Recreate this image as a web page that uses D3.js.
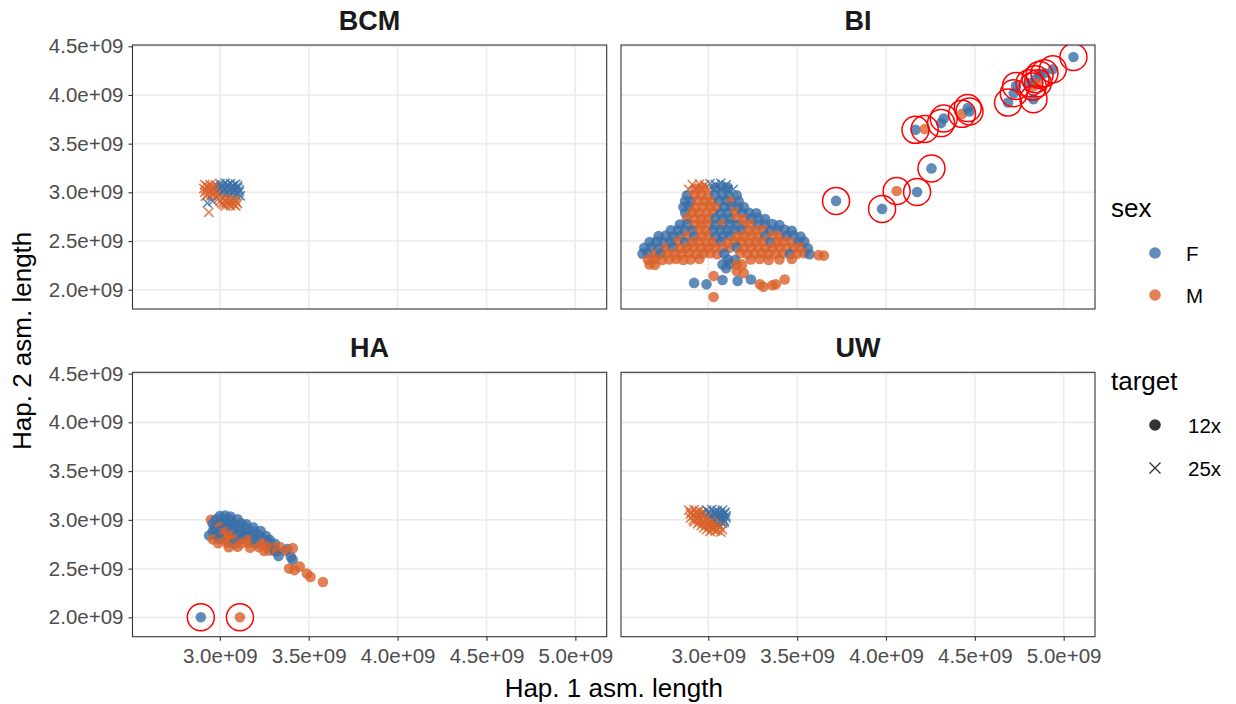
<!DOCTYPE html>
<html><head><meta charset="utf-8">
<script src="https://cdn.jsdelivr.net/npm/d3@7"></script>
<style>body{margin:0;background:#fff;} text{font-family:"Liberation Sans",Arial,Helvetica,sans-serif;}</style>
</head><body>
<script>
// ---------------- DATA ----------------
const panelNames = ["BCM", "BI", "HA", "UW"];
const sexLevels = ["F", "M"];
const targetLevels = ["12x", "25x"];
const xTickValues = [3.0e9, 3.5e9, 4.0e9, 4.5e9, 5.0e9];
const yTickValues = [2.0e9, 2.5e9, 3.0e9, 3.5e9, 4.0e9, 4.5e9];
const xTitle = "Hap. 1 asm. length";
const yTitle = "Hap. 2 asm. length";

// points: [hap1 (in 1e9), hap2 (in 1e9), sex, target, flagged]
const bcmPoints = [
  [2.915,3.08,"M","25x"],[2.945,3.08,"M","25x"],[2.975,3.075,"M","25x"],
  [2.93,3.06,"M","25x"],[2.96,3.06,"M","25x"],[2.99,3.055,"M","25x"],
  [2.91,3.04,"M","25x"],[2.94,3.045,"M","25x"],[2.97,3.04,"M","25x"],[3.00,3.035,"M","25x"],
  [2.925,3.02,"M","25x"],[2.955,3.02,"M","25x"],[2.985,3.015,"M","25x"],
  [2.915,3.00,"M","25x"],[2.945,3.005,"M","25x"],[2.975,3.00,"M","25x"],[3.005,2.995,"M","25x"],
  [2.93,2.98,"M","25x"],[2.96,2.98,"M","25x"],[2.99,2.975,"M","25x"],
  [2.92,2.96,"M","25x"],[2.95,2.965,"M","25x"],[2.98,2.96,"M","25x"],
  [2.93,2.89,"F","25x"],[2.96,2.91,"F","25x"],
  [3.00,3.09,"F","25x"],[3.03,3.095,"F","25x"],[3.06,3.09,"F","25x"],[3.09,3.085,"F","25x"],
  [3.015,3.07,"F","25x"],[3.045,3.075,"F","25x"],[3.075,3.07,"F","25x"],[3.10,3.065,"F","25x"],
  [3.01,3.05,"F","25x"],[3.04,3.055,"F","25x"],[3.07,3.05,"F","25x"],[3.10,3.045,"F","25x"],
  [3.025,3.03,"F","25x"],[3.055,3.035,"F","25x"],[3.085,3.03,"F","25x"],[3.11,3.025,"F","25x"],
  [3.02,3.01,"F","25x"],[3.05,3.015,"F","25x"],[3.08,3.01,"F","25x"],[3.11,3.005,"F","25x"],
  [3.04,2.99,"F","25x"],[3.07,2.995,"F","25x"],[3.10,2.99,"F","25x"],
  [3.03,2.97,"F","25x"],[3.06,2.975,"F","25x"],[3.09,2.97,"F","25x"],[3.115,2.965,"F","25x"],
  [2.99,2.93,"M","25x"],[3.02,2.935,"M","25x"],[3.05,2.93,"M","25x"],[3.08,2.925,"M","25x"],
  [3.00,2.91,"M","25x"],[3.03,2.915,"M","25x"],[3.06,2.91,"M","25x"],[3.09,2.905,"M","25x"],
  [3.01,2.89,"M","25x"],[3.04,2.895,"M","25x"],[3.07,2.89,"M","25x"],[3.10,2.885,"M","25x"],
  [3.02,2.875,"M","25x"],[3.05,2.88,"M","25x"],[3.08,2.875,"M","25x"],
  [3.03,2.86,"M","25x"],[3.06,2.865,"M","25x"],[3.09,2.86,"M","25x"],
  [2.938,2.795,"M","25x"]
];

const biPoints = [
  // peak (25x)
  [2.91,3.08,"M","25x"],[2.95,3.085,"M","25x"],[2.98,3.075,"M","25x"],
  [3.01,3.09,"F","25x"],[3.04,3.08,"F","25x"],[3.07,3.095,"F","25x"],[3.10,3.075,"F","25x"],
  [2.89,3.03,"M","25x"],[2.93,3.035,"M","25x"],[2.97,3.025,"M","25x"],[3.00,3.03,"M","25x"],
  [3.03,3.03,"F","25x"],[3.07,3.035,"F","25x"],[3.11,3.025,"F","25x"],[3.14,3.03,"F","25x"],
  [2.93,3.04,"M","12x"],[2.97,3.05,"M","12x"],[3.04,3.05,"F","12x"],[3.08,3.06,"F","12x"],[3.11,3.05,"F","12x"],
  // rows of 12x
  [2.88,2.97,"F","12x"],[2.92,2.97,"M","12x"],[2.96,2.975,"M","12x"],[3.00,2.965,"M","12x"],
  [3.04,2.97,"F","12x"],[3.08,2.975,"F","12x"],[3.12,2.965,"F","12x"],[3.16,2.97,"F","12x"],
  [2.87,2.91,"F","12x"],[2.90,2.905,"F","12x"],[2.94,2.915,"M","12x"],[2.98,2.91,"M","12x"],[3.02,2.905,"M","12x"],
  [3.06,2.91,"F","12x"],[3.10,2.915,"F","12x"],[3.13,2.905,"M","12x"],[3.17,2.91,"F","12x"],
  [2.86,2.85,"F","12x"],[2.89,2.855,"F","12x"],[2.93,2.845,"M","12x"],[2.97,2.85,"M","12x"],[3.01,2.855,"M","12x"],
  [3.05,2.845,"M","12x"],[3.09,2.85,"F","12x"],[3.13,2.855,"F","12x"],[3.17,2.845,"F","12x"],[3.20,2.85,"F","12x"],
  [2.87,2.79,"F","12x"],[2.91,2.795,"M","12x"],[2.95,2.785,"M","12x"],[2.99,2.79,"M","12x"],[3.03,2.795,"M","12x"],
  [3.07,2.785,"F","12x"],[3.11,2.79,"F","12x"],[3.15,2.795,"M","12x"],[3.19,2.785,"F","12x"],[3.23,2.79,"F","12x"],[3.27,2.785,"F","12x"],
  [2.88,2.73,"M","12x"],[2.92,2.735,"M","12x"],[2.96,2.725,"M","12x"],[3.00,2.73,"M","12x"],[3.04,2.735,"F","12x"],
  [3.08,2.725,"F","12x"],[3.12,2.73,"F","12x"],[3.16,2.735,"M","12x"],[3.20,2.725,"M","12x"],[3.24,2.73,"F","12x"],
  [3.28,2.735,"F","12x"],[3.32,2.725,"F","12x"],
  [2.84,2.67,"F","12x"],[2.88,2.675,"F","12x"],[2.92,2.665,"M","12x"],[2.96,2.67,"M","12x"],[3.00,2.675,"M","12x"],
  [3.04,2.665,"F","12x"],[3.08,2.67,"M","12x"],[3.12,2.675,"F","12x"],[3.16,2.665,"F","12x"],[3.20,2.67,"M","12x"],
  [3.24,2.675,"M","12x"],[3.28,2.665,"F","12x"],[3.32,2.67,"F","12x"],[3.36,2.675,"F","12x"],[3.40,2.665,"F","12x"],
  [2.79,2.61,"F","12x"],[2.83,2.615,"F","12x"],[2.87,2.605,"F","12x"],[2.91,2.61,"F","12x"],[2.95,2.615,"M","12x"],
  [2.99,2.605,"M","12x"],[3.03,2.61,"F","12x"],[3.07,2.615,"F","12x"],[3.11,2.605,"F","12x"],[3.15,2.61,"F","12x"],
  [3.19,2.615,"F","12x"],[3.23,2.605,"M","12x"],[3.27,2.61,"M","12x"],[3.31,2.615,"M","12x"],[3.35,2.605,"F","12x"],
  [3.39,2.61,"F","12x"],[3.43,2.615,"F","12x"],[3.47,2.605,"F","12x"],
  [2.72,2.55,"F","12x"],[2.76,2.555,"F","12x"],[2.80,2.545,"F","12x"],[2.84,2.55,"F","12x"],[2.88,2.555,"M","12x"],
  [2.92,2.545,"F","12x"],[2.96,2.55,"M","12x"],[3.00,2.555,"M","12x"],[3.04,2.545,"F","12x"],[3.08,2.55,"F","12x"],
  [3.12,2.555,"F","12x"],[3.16,2.545,"M","12x"],[3.20,2.55,"M","12x"],[3.24,2.555,"M","12x"],[3.28,2.545,"M","12x"],
  [3.32,2.55,"F","12x"],[3.36,2.555,"M","12x"],[3.40,2.545,"M","12x"],[3.44,2.55,"F","12x"],[3.48,2.555,"F","12x"],[3.52,2.545,"F","12x"],
  [2.67,2.49,"F","12x"],[2.71,2.495,"F","12x"],[2.75,2.485,"F","12x"],[2.79,2.49,"F","12x"],[2.83,2.495,"M","12x"],
  [2.87,2.485,"F","12x"],[2.91,2.49,"M","12x"],[2.95,2.495,"M","12x"],[2.99,2.485,"M","12x"],[3.03,2.49,"M","12x"],
  [3.07,2.495,"F","12x"],[3.11,2.485,"M","12x"],[3.15,2.49,"M","12x"],[3.19,2.495,"M","12x"],[3.23,2.485,"M","12x"],
  [3.27,2.49,"M","12x"],[3.31,2.495,"M","12x"],[3.35,2.485,"F","12x"],[3.39,2.49,"M","12x"],[3.43,2.495,"M","12x"],
  [3.47,2.485,"M","12x"],[3.51,2.49,"F","12x"],[3.54,2.495,"F","12x"],
  [2.64,2.43,"F","12x"],[2.68,2.435,"F","12x"],[2.72,2.425,"F","12x"],[2.76,2.43,"M","12x"],[2.80,2.435,"F","12x"],
  [2.84,2.425,"M","12x"],[2.88,2.43,"M","12x"],[2.92,2.435,"M","12x"],[2.96,2.425,"M","12x"],[3.00,2.43,"M","12x"],
  [3.04,2.435,"M","12x"],[3.08,2.425,"M","12x"],[3.12,2.43,"M","12x"],[3.16,2.435,"F","12x"],[3.20,2.425,"M","12x"],
  [3.24,2.43,"M","12x"],[3.28,2.435,"M","12x"],[3.32,2.425,"M","12x"],[3.36,2.43,"M","12x"],[3.40,2.435,"M","12x"],
  [3.44,2.425,"M","12x"],[3.48,2.43,"M","12x"],[3.52,2.435,"M","12x"],[3.56,2.425,"F","12x"],
  [2.63,2.37,"F","12x"],[2.66,2.375,"F","12x"],[2.70,2.365,"M","12x"],[2.73,2.37,"F","12x"],[2.77,2.375,"M","12x"],
  [2.81,2.365,"M","12x"],[2.85,2.37,"M","12x"],[2.89,2.375,"M","12x"],[2.93,2.365,"M","12x"],[2.97,2.37,"M","12x"],
  [3.01,2.375,"M","12x"],[3.05,2.365,"M","12x"],[3.09,2.37,"F","12x"],[3.18,2.375,"M","12x"],[3.22,2.365,"M","12x"],
  [3.26,2.37,"M","12x"],[3.30,2.375,"M","12x"],[3.34,2.365,"M","12x"],[3.38,2.37,"M","12x"],[3.42,2.375,"M","12x"],
  [3.46,2.365,"F","12x"],[3.50,2.37,"M","12x"],[3.54,2.375,"M","12x"],[3.57,2.365,"F","12x"],[3.62,2.355,"M","12x"],[3.65,2.35,"M","12x"],
  [2.66,2.31,"M","12x"],[2.70,2.315,"M","12x"],[2.74,2.305,"M","12x"],[2.78,2.31,"M","12x"],[2.82,2.315,"M","12x"],
  [2.86,2.305,"M","12x"],[2.90,2.31,"M","12x"],[2.95,2.315,"M","12x"],[3.11,2.31,"F","12x"],[3.15,2.305,"F","12x"],
  [3.24,2.31,"M","12x"],[3.29,2.315,"M","12x"],[3.34,2.305,"M","12x"],[3.40,2.31,"M","12x"],[3.47,2.315,"M","12x"],
  [2.67,2.26,"M","12x"],[2.70,2.255,"M","12x"],[3.08,2.26,"F","12x"],[3.12,2.265,"F","12x"],[3.16,2.255,"M","12x"],[3.19,2.26,"M","12x"],
  [3.10,2.22,"F","12x"],[3.16,2.19,"M","12x"],[3.20,2.17,"M","12x"],[3.03,2.14,"M","12x"],
  [2.92,2.07,"F","12x"],[2.99,2.055,"F","12x"],[3.08,2.10,"F","12x"],[3.165,2.09,"F","12x"],[3.24,2.105,"F","12x"],
  [3.03,1.925,"M","12x"],[3.29,2.055,"M","12x"],[3.31,2.03,"M","12x"],[3.36,2.045,"M","12x"],[3.38,2.055,"M","12x"],[3.43,2.105,"M","12x"],
  // outliers (flagged)
  [3.719,2.912,"F","12x",1],[3.978,2.830,"F","12x",1],[4.060,3.014,"M","12x",1],[4.175,3.004,"F","12x",1],
  [4.256,3.246,"F","12x",1],[4.166,3.642,"F","12x",1],[4.218,3.650,"M","12x",1],[4.310,3.711,"F","12x",1],
  [4.325,3.758,"F","12x",1],[4.428,3.806,"M","12x",1],[4.460,3.865,"F","12x",1],[4.470,3.830,"F","12x",1],
  [4.687,3.922,"F","12x",1],[4.719,4.018,"F","12x",1],[4.732,4.093,"F","12x",1],[4.830,3.957,"F","12x",1],
  [4.826,4.086,"M","12x",1],[4.841,4.162,"F","12x",1],[4.864,4.206,"F","12x",1],[4.892,4.223,"F","12x",1],
  [4.939,4.264,"F","12x",1],[4.807,4.121,"F","12x",1],[4.854,4.121,"M","12x",1],[5.055,4.390,"F","12x",1]
];

const haPoints = [
  [3.00,3.04,"F","12x"],[3.03,3.045,"F","12x"],[3.06,3.035,"F","12x"],
  [2.95,3.00,"M","12x"],[2.98,3.005,"F","12x"],[3.02,2.995,"F","12x"],[3.06,3.00,"F","12x"],[3.10,3.005,"F","12x"],
  [2.96,2.96,"F","12x"],[3.00,2.965,"F","12x"],[3.04,2.955,"F","12x"],[3.08,2.96,"F","12x"],[3.12,2.965,"F","12x"],[3.15,2.955,"F","12x"],
  [2.97,2.92,"F","12x"],[3.00,2.925,"M","12x"],[3.03,2.915,"F","12x"],[3.07,2.92,"F","12x"],[3.11,2.925,"F","12x"],[3.15,2.915,"F","12x"],[3.19,2.92,"F","12x"],
  [2.96,2.88,"F","12x"],[3.00,2.885,"F","12x"],[3.03,2.875,"M","12x"],[3.07,2.88,"F","12x"],[3.11,2.885,"F","12x"],[3.15,2.875,"F","12x"],[3.19,2.88,"F","12x"],[3.23,2.885,"F","12x"],
  [2.94,2.84,"F","12x"],[2.98,2.845,"F","12x"],[3.02,2.835,"M","12x"],[3.06,2.84,"M","12x"],[3.10,2.845,"F","12x"],[3.14,2.835,"F","12x"],[3.18,2.84,"F","12x"],[3.22,2.845,"F","12x"],[3.26,2.835,"F","12x"],
  [2.96,2.80,"M","12x"],[3.00,2.805,"F","12x"],[3.04,2.795,"M","12x"],[3.08,2.80,"M","12x"],[3.12,2.805,"F","12x"],[3.16,2.795,"M","12x"],[3.20,2.80,"F","12x"],[3.24,2.805,"F","12x"],[3.28,2.795,"F","12x"],
  [2.99,2.76,"M","12x"],[3.04,2.765,"M","12x"],[3.08,2.755,"F","12x"],[3.12,2.76,"M","12x"],[3.16,2.765,"M","12x"],[3.20,2.755,"F","12x"],[3.24,2.76,"M","12x"],[3.28,2.765,"F","12x"],[3.31,2.755,"F","12x"],
  [3.05,2.72,"M","12x"],[3.10,2.725,"M","12x"],[3.17,2.715,"M","12x"],[3.22,2.72,"M","12x"],[3.26,2.725,"M","12x"],[3.30,2.715,"M","12x"],[3.34,2.72,"M","12x"],[3.38,2.70,"F","12x"],
  [3.25,2.68,"M","12x"],[3.28,2.685,"M","12x"],[3.31,2.68,"F","12x"],[3.32,2.675,"M","12x"],[3.37,2.68,"M","12x"],
  [3.33,2.63,"F","12x"],[3.40,2.62,"F","12x"],[3.41,2.59,"F","12x"],[3.41,2.71,"M","12x"],
  [3.39,2.50,"M","12x"],[3.42,2.485,"M","12x"],[3.45,2.52,"M","12x"],[3.49,2.45,"M","12x"],[3.51,2.415,"M","12x"],[3.58,2.363,"M","12x"],
  [2.893,2.001,"F","12x",1],[3.113,2.001,"M","12x",1]
];

const uwPoints = [
  [2.89,3.10,"M","25x"],[2.92,3.105,"M","25x"],[2.95,3.095,"M","25x"],
  [2.905,3.08,"M","25x"],[2.935,3.085,"M","25x"],[2.965,3.075,"M","25x"],
  [2.90,3.06,"M","25x"],[2.93,3.065,"M","25x"],[2.96,3.055,"M","25x"],[2.985,3.06,"M","25x"],
  [2.915,3.04,"M","25x"],[2.945,3.045,"M","25x"],[2.975,3.035,"M","25x"],
  [2.99,3.10,"F","25x"],[3.02,3.105,"F","25x"],[3.05,3.095,"F","25x"],[3.08,3.10,"F","25x"],
  [3.005,3.08,"F","25x"],[3.035,3.085,"F","25x"],[3.065,3.075,"F","25x"],[3.095,3.08,"F","25x"],
  [3.01,3.06,"F","25x"],[3.04,3.065,"F","25x"],[3.07,3.055,"F","25x"],[3.09,3.06,"F","25x"],
  [3.015,3.04,"F","25x"],[3.045,3.045,"F","25x"],[3.075,3.035,"F","25x"],[3.10,3.04,"F","25x"],
  [3.02,3.02,"F","25x"],[3.05,3.025,"F","25x"],[3.08,3.015,"F","25x"],[3.10,3.02,"F","25x"],
  [3.03,3.00,"F","25x"],[3.06,3.005,"F","25x"],[3.09,2.995,"F","25x"],
  [3.04,2.98,"F","25x"],[3.07,2.985,"F","25x"],[3.09,2.975,"F","25x"],
  [3.055,2.96,"F","25x"],[3.08,2.965,"F","25x"],
  [2.90,3.02,"M","25x"],[2.93,3.025,"M","25x"],[2.96,3.015,"M","25x"],[2.99,3.02,"M","25x"],
  [2.915,3.00,"M","25x"],[2.945,3.005,"M","25x"],[2.975,2.995,"M","25x"],
  [2.92,2.98,"M","25x"],[2.95,2.985,"M","25x"],[2.98,2.975,"M","25x"],[3.01,2.98,"M","25x"],
  [2.94,2.96,"M","25x"],[2.97,2.965,"M","25x"],[3.00,2.955,"M","25x"],[3.03,2.96,"M","25x"],
  [2.96,2.94,"M","25x"],[2.99,2.945,"M","25x"],[3.02,2.935,"M","25x"],[3.05,2.94,"M","25x"],
  [2.975,2.92,"M","25x"],[3.005,2.925,"M","25x"],[3.035,2.915,"M","25x"],[3.065,2.92,"M","25x"],
  [2.99,2.90,"M","25x"],[3.02,2.905,"M","25x"],[3.05,2.895,"M","25x"],[3.08,2.90,"M","25x"],
  [3.01,2.88,"M","25x"],[3.04,2.885,"M","25x"],[3.07,2.875,"M","25x"],
  [3.015,2.984,"M","25x"]
];

const panelData = { BCM: bcmPoints, BI: biPoints, HA: haPoints, UW: uwPoints };

// ---------------- LAYOUT / STYLE ----------------
const W = 1236, H = 704;
const colX = [[132.5, 606.7], [621, 1095]];
const rowY = [[45, 309], [372.3, 636.7]];
const sexColor = { F: "#3a6fa8", M: "#d9612a" };
const FONT = '"Liberation Sans",Arial,Helvetica,sans-serif';
const TICK_FS = 20.5, TITLE_FS = 26, STRIP_FS = 27, PT_R = 5.3, X_HALF = 4.6;

const svg = d3.select("body").append("svg").attr("width", W).attr("height", H);

const all = [].concat(...panelNames.map(p => panelData[p]));
const xe = d3.extent(all, d => d[0] * 1e9), ye = d3.extent(all, d => d[1] * 1e9);
const xpad = (xe[1] - xe[0]) * 0.05, ypad = (ye[1] - ye[0]) * 0.05;
const xDomain = [xe[0] - xpad, xe[1] + xpad], yDomain = [ye[0] - ypad, ye[1] + ypad];
const fmt = v => (v / 1e9).toFixed(1) + "e+09";

panelNames.forEach((name, i) => {
  const c = i % 2, r = Math.floor(i / 2);
  const x = d3.scaleLinear().domain(xDomain).range(colX[c]);
  const y = d3.scaleLinear().domain(yDomain).range([rowY[r][1], rowY[r][0]]);
  const g = svg.append("g");
  const x0 = colX[c][0], x1 = colX[c][1], y0 = rowY[r][0], y1 = rowY[r][1];

  g.append("rect").attr("x", x0).attr("y", y0).attr("width", x1 - x0).attr("height", y1 - y0).attr("fill", "#fff");
  g.selectAll(".gx").data(xTickValues).enter().append("line")
    .attr("x1", d => x(d)).attr("x2", d => x(d)).attr("y1", y0).attr("y2", y1)
    .attr("stroke", "#ebebeb").attr("stroke-width", 1.6);
  g.selectAll(".gy").data(yTickValues).enter().append("line")
    .attr("y1", d => y(d)).attr("y2", d => y(d)).attr("x1", x0).attr("x2", x1)
    .attr("stroke", "#ebebeb").attr("stroke-width", 1.6);

  const clipId = "clip" + i;
  svg.append("clipPath").attr("id", clipId).append("rect")
    .attr("x", x0).attr("y", y0).attr("width", x1 - x0).attr("height", y1 - y0);
  const pg = g.append("g").attr("clip-path", `url(#${clipId})`);

  const pts = panelData[name];
  pts.forEach(d => {
    const px = x(d[0] * 1e9), py = y(d[1] * 1e9);
    if (d[3] === "12x") {
      pg.append("circle").attr("cx", px).attr("cy", py).attr("r", PT_R)
        .attr("fill", sexColor[d[2]]).attr("fill-opacity", 0.8);
    } else {
      const h = X_HALF;
      pg.append("path").attr("d", `M${px-h},${py-h}L${px+h},${py+h}M${px-h},${py+h}L${px+h},${py-h}`)
        .attr("stroke", sexColor[d[2]]).attr("stroke-opacity", 0.8).attr("stroke-width", 1.6).attr("fill", "none");
    }
  });
  pts.filter(d => d[4]).forEach(d => {
    pg.append("circle").attr("cx", x(d[0] * 1e9)).attr("cy", y(d[1] * 1e9)).attr("r", 13.5)
      .attr("fill", "none").attr("stroke", "#ff0000").attr("stroke-width", 1.5);
  });

  g.append("rect").attr("x", x0).attr("y", y0).attr("width", x1 - x0).attr("height", y1 - y0)
    .attr("fill", "none").attr("stroke", "#333333").attr("stroke-width", 1.1);

  svg.append("text").attr("x", (x0 + x1) / 2).attr("y", y0 - 15).attr("text-anchor", "middle")
    .attr("font-size", STRIP_FS).attr("font-weight", "bold").attr("fill", "#1a1a1a").text(name);

  if (c === 0) {
    const ay = d3.axisLeft(y).tickValues(yTickValues).tickFormat(fmt).tickSize(4).tickPadding(5);
    const ag = svg.append("g").attr("transform", `translate(${x0},0)`).call(ay);
    ag.select(".domain").remove();
    ag.selectAll("line").attr("stroke", "#333333").attr("stroke-width", 1.1);
    ag.selectAll("text").attr("fill", "#4d4d4d").attr("font-size", TICK_FS).attr("font-family", FONT);
  }
  if (r === 1) {
    const ax = d3.axisBottom(x).tickValues(xTickValues).tickFormat(fmt).tickSize(4).tickPadding(8);
    const ag = svg.append("g").attr("transform", `translate(0,${y1})`).call(ax);
    ag.select(".domain").remove();
    ag.selectAll("line").attr("stroke", "#333333").attr("stroke-width", 1.1);
    ag.selectAll("text").attr("fill", "#4d4d4d").attr("font-size", TICK_FS).attr("font-family", FONT);
  }
});

svg.append("text").attr("x", (colX[0][0] + colX[1][1]) / 2).attr("y", 697).attr("text-anchor", "middle")
  .attr("font-size", TITLE_FS).attr("fill", "#000").text(xTitle);
svg.append("text").attr("transform", `translate(31,${(rowY[0][0] + rowY[1][1]) / 2}) rotate(-90)`)
  .attr("text-anchor", "middle").attr("font-size", TITLE_FS).attr("fill", "#000").text(yTitle);

const lg = svg.append("g");
lg.append("text").attr("x", 1111).attr("y", 217).attr("font-size", TITLE_FS).attr("fill", "#000").text("sex");
sexLevels.forEach((s, i) => {
  const cy = 253 + i * 42;
  lg.append("circle").attr("cx", 1155).attr("cy", cy).attr("r", 5.8).attr("fill", sexColor[s]).attr("fill-opacity", 0.8);
  lg.append("text").attr("x", 1186).attr("y", cy + 7.5).attr("font-size", TICK_FS).attr("fill", "#000").text(s);
});
lg.append("text").attr("x", 1111).attr("y", 390).attr("font-size", TITLE_FS).attr("fill", "#000").text("target");
targetLevels.forEach((t, i) => {
  const cy = 425 + i * 43;
  if (t === "12x") {
    lg.append("circle").attr("cx", 1155).attr("cy", cy).attr("r", 5.8).attr("fill", "#333333");
  } else {
    lg.append("path").attr("d", `M1149.5,${cy-5.5}L1160.5,${cy+5.5}M1149.5,${cy+5.5}L1160.5,${cy-5.5}`)
      .attr("stroke", "#333333").attr("stroke-width", 1.4);
  }
  lg.append("text").attr("x", 1188).attr("y", cy + 7.5).attr("font-size", TICK_FS).attr("fill", "#000").text(t);
});
</script>
</body></html>
